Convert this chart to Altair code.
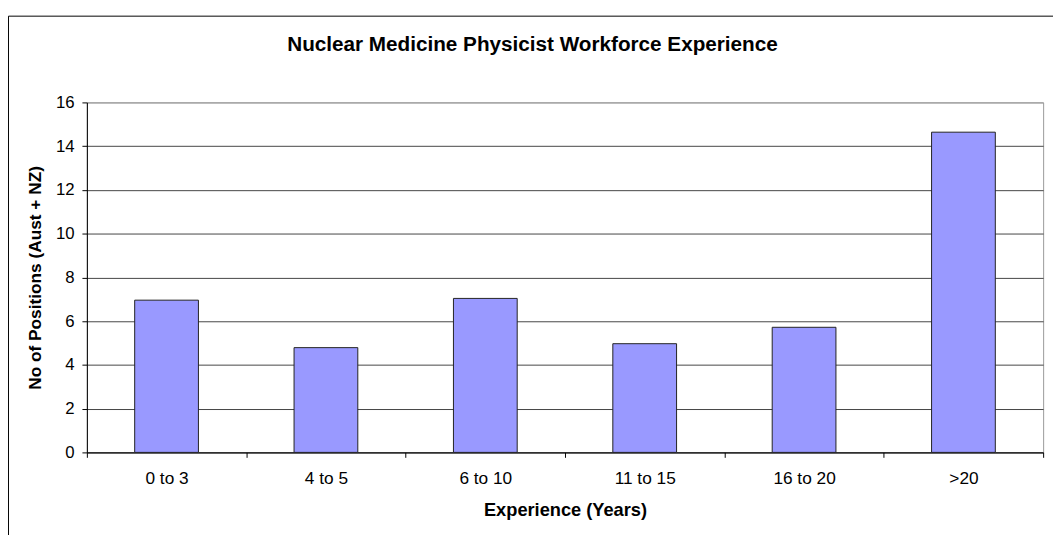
import altair as alt
import pandas as pd

categories = ["0 to 3", "4 to 5", "6 to 10", "11 to 15", "16 to 20", ">20"]
positions = [6.96, 4.79, 7.04, 4.97, 5.72, 14.64]
chart_title = "Nuclear Medicine Physicist Workforce Experience"

df = pd.DataFrame({"exp": categories, "n": positions})
FONT = "Liberation Sans"

x = alt.X(
    "exp:N",
    sort=categories,
    scale=alt.Scale(paddingInner=0, paddingOuter=0),
    axis=alt.Axis(
        title="Experience (Years)",
        labelAngle=0,
        labelFontSize=17.5,
        labelColor="#000",
        labelPadding=13,
        tickBand="extent",
        tickSize=5,
        tickColor="#000",
        domainColor="#000",
        grid=False,
        titleFontSize=18.5,
        titleFontWeight="bold",
        titleColor="#000",
        titleY=58,
        titleBaseline="middle",
    ),
)
y = alt.Y(
    "n:Q",
    scale=alt.Scale(domain=[0, 16], nice=False),
    axis=alt.Axis(
        title="No of Positions (Aust + NZ)",
        values=[0, 2, 4, 6, 8, 10, 12, 14, 16],
        labelFontSize=17,
        labelColor="#000",
        labelPadding=8,
        tickSize=5,
        tickColor="#000",
        domainColor="#000",
        grid=True,
        gridColor=alt.condition("datum.value == 16", alt.value("#999999"), alt.value("#444444")),
        gridOpacity=1,
        titleFontSize=17.5,
        titleFontWeight="bold",
        titleColor="#000",
        titleX=-47,
        titleBaseline="alphabetic",
    ),
)

one = pd.DataFrame({"t": [chart_title]})

border = alt.Chart(one).mark_rect(
    fill=None, stroke="#000", strokeWidth=1, clip=False
).encode(
    x=alt.value(-79.5), x2=alt.value(1200), y=alt.value(-87.5), y2=alt.value(600)
)

title = alt.Chart(one).mark_text(
    font=FONT, fontSize=21, fontWeight="bold", color="#000",
    align="center", baseline="alphabetic", clip=False
).encode(
    text="t:N", x=alt.value(452), y=alt.value(-52)
)

bars = alt.Chart(df).mark_bar(
    width={"band": 0.4}, color="#9999FF", stroke="#222", strokeWidth=1
).encode(x=x, y=y)

chart = alt.layer(border, bars, title).properties(
    width=970,
    height=355,
    autosize=alt.AutoSizeParams(type="none"),
    padding={"left": 80, "top": 92, "right": 10, "bottom": 80},
).configure(font=FONT).configure_view(stroke="#999999", strokeWidth=1)

chart.save("out.html", embed_options={"renderer": "svg", "actions": False})
